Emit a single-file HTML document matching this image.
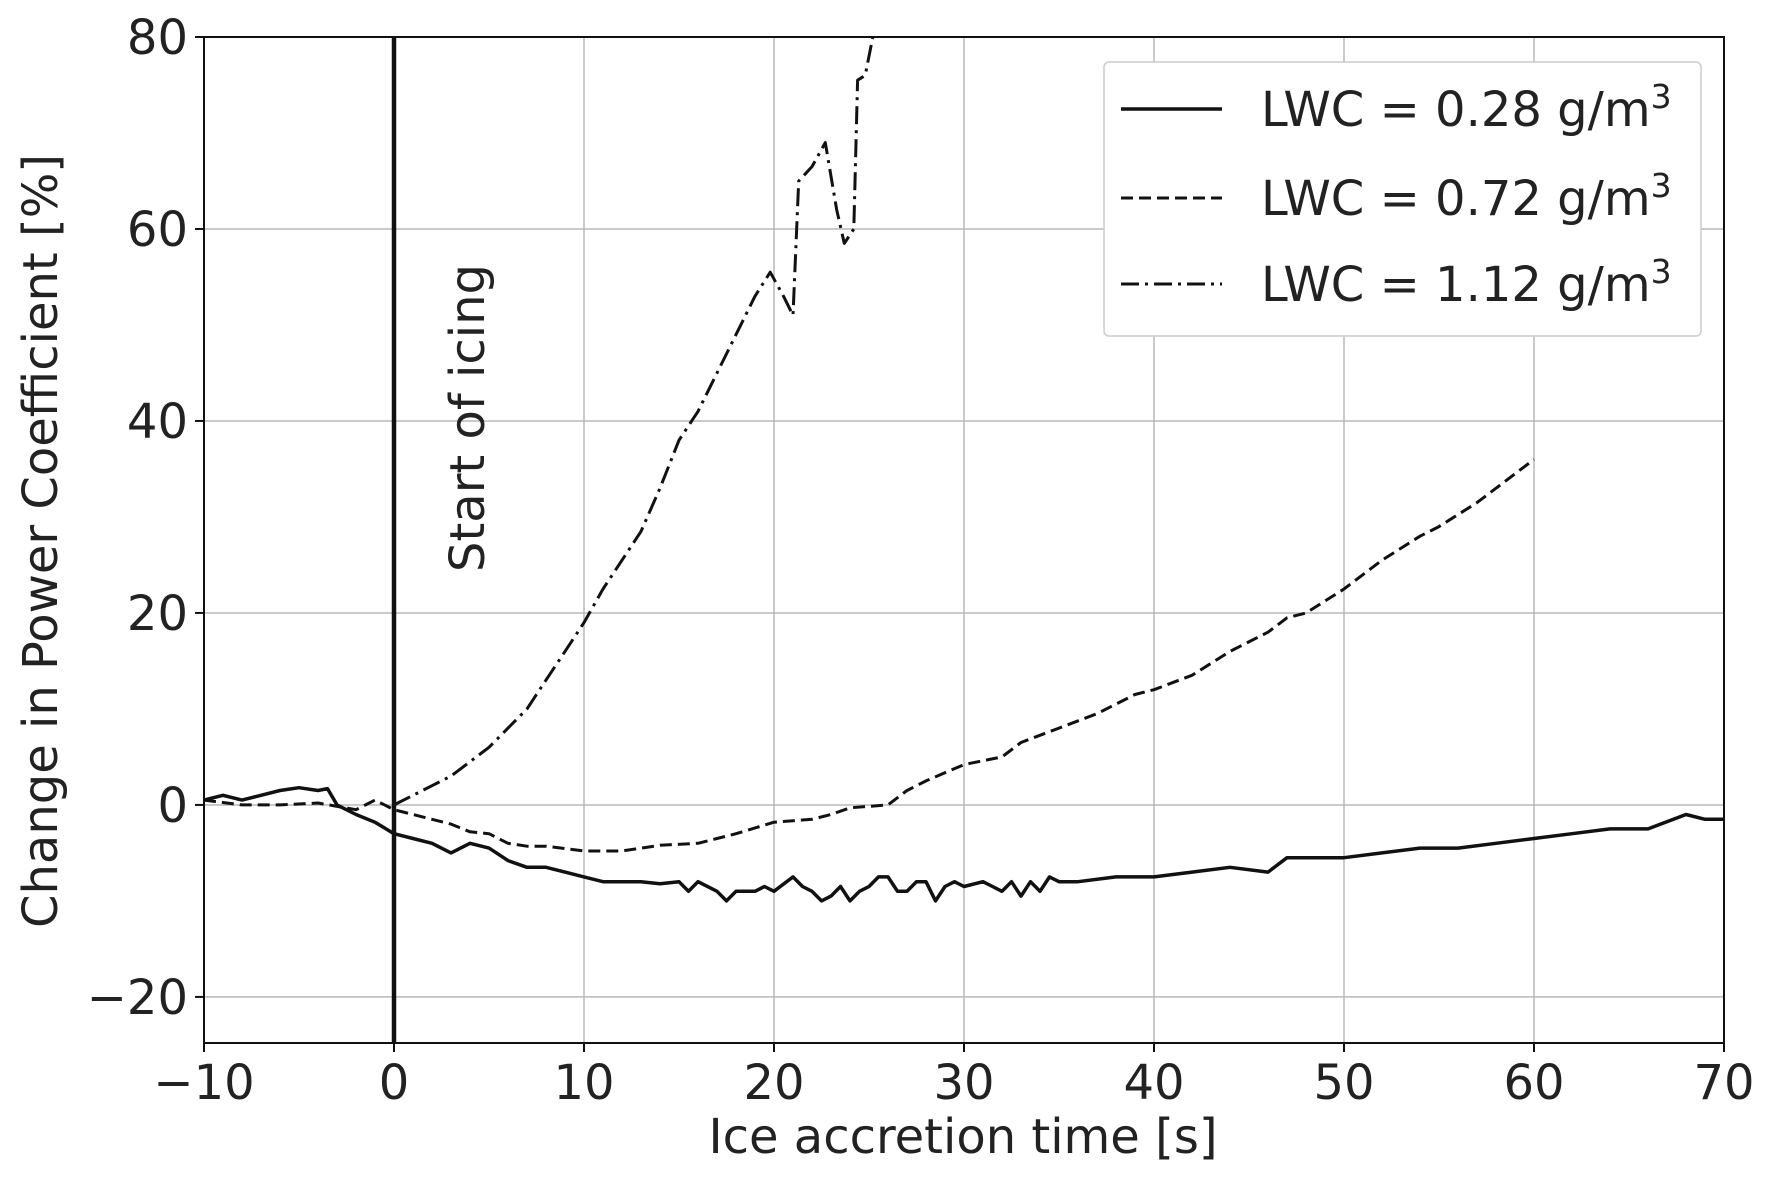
<!DOCTYPE html>
<html><head><meta charset="utf-8"><style>
html,body{margin:0;padding:0;background:#fff}
svg{display:block;font-family:"DejaVu Sans","Liberation Sans",sans-serif}
</style></head><body>
<svg id="chart" width="1766" height="1177">
<g id="grid"></g>
<g id="series"></g>
<g id="axes"></g>
<text x="963" y="1153" font-size="48" text-anchor="middle" fill="#222">Ice accretion time [s]</text>
<text transform="translate(57,541) rotate(-90)" font-size="48" text-anchor="middle" fill="#222">Change in Power Coefficient [%]</text>
<text transform="translate(484,418) rotate(-90)" font-size="48" text-anchor="middle" fill="#222">Start of icing</text>
<g>
<rect x="1104" y="62" width="597" height="274" rx="5" fill="#fff" stroke="#ccc" stroke-width="1.5"/>
<g><line x1="1121" y1="109" x2="1222" y2="109" stroke="#111" stroke-width="3.5"/><text x="1261" y="126" font-size="48" fill="#222">LWC = 0.28 g/m<tspan dy="-18" font-size="33">3</tspan></text></g>
<g><line x1="1121" y1="198" x2="1222" y2="198" stroke="#111" stroke-width="3" stroke-dasharray="12,6"/><text x="1261" y="215" font-size="48" fill="#222">LWC = 0.72 g/m<tspan dy="-18" font-size="33">3</tspan></text></g>
<g><line x1="1121" y1="284" x2="1222" y2="284" stroke="#111" stroke-width="3" stroke-dasharray="18,6,3,6"/><text x="1261" y="301" font-size="48" fill="#222">LWC = 1.12 g/m<tspan dy="-18" font-size="33">3</tspan></text></g>
</g>
</svg>
<script>
const xTicks=[-10,0,10,20,30,40,50,60,70];
const yTicks=[-20,0,20,40,60,80];
const tLow=[-10,-9,-8,-7,-6,-5,-4,-3.5,-3,-2,-1,0,1,2,3,4,5,6,7,8,9,10,11,12,13,14,15,15.5,16,17,17.5,18,19,19.5,20,21,21.5,22,22.5,23,23.5,24,24.5,25,25.5,26,26.5,27,27.5,28,28.5,29,29.5,30,31,31.5,32,32.5,33,33.5,34,34.5,35,36,38,40,42,44,46,47,49,50,52,54,56,58,60,62,64,66,68,69,70];
const vLow=[0.5,1,0.5,1,1.5,1.8,1.5,1.7,0,-1,-1.8,-3,-3.5,-4,-5,-4,-4.5,-5.8,-6.5,-6.5,-7,-7.5,-8,-8,-8,-8.2,-8,-9,-8,-9,-10,-9,-9,-8.5,-9,-7.5,-8.5,-9,-10,-9.5,-8.5,-10,-9,-8.5,-7.5,-7.5,-9,-9,-8,-8,-10,-8.5,-8,-8.5,-8,-8.5,-9,-8,-9.5,-8,-9,-7.5,-8,-8,-7.5,-7.5,-7,-6.5,-7,-5.5,-5.5,-5.5,-5,-4.5,-4.5,-4,-3.5,-3,-2.5,-2.5,-1,-1.5,-1.5];
const tMid=[-10,-8,-6,-4,-2,-1,0,1,2,3,4,5,6,7,8,10,12,14,16,17,18,20,22,23,24,26,27,28,30,32,33,35,37,39,40,42,44,46,47,48,50,52,54,55,57,59,60];
const vMid=[0.5,0,0,0.2,-0.5,0.5,-0.5,-1,-1.5,-2,-2.8,-3,-4,-4.3,-4.3,-4.8,-4.8,-4.2,-4,-3.5,-3,-1.8,-1.5,-1,-0.3,0,1.5,2.5,4.2,5,6.5,8,9.5,11.5,12,13.5,16,18,19.5,20,22.5,25.5,28,29,31.5,34.5,36];
const tHigh=[0,1,2,3,4,5,6,7,8,9,10,11,12,13,14,15,16,17,18,19,19.8,20.5,21,21.3,22,22.7,23.3,23.7,24.2,24.4,24.8,25.2,25.5];
const vHigh=[0,1,2,3,4.5,6,8,10,13,16,19,22.5,25.5,28.5,33,38,41,45,49,53,55.5,53,51,65,66.5,69,62,58.5,60,75.5,76,80,82];
const X0=204,X1=1724,YT=37,YB=1043,XMIN=-10,XMAX=70,YMIN=-24.8,YMAX=80;
const sx=v=>X0+(v-XMIN)/(XMAX-XMIN)*(X1-X0);
const sy=v=>YB-(v-YMIN)/(YMAX-YMIN)*(YB-YT);
const NS="http://www.w3.org/2000/svg";
function mk(tag,attrs,parent){const e=document.createElementNS(NS,tag);for(const k in attrs)e.setAttribute(k,attrs[k]);parent.appendChild(e);return e;}
const grid=document.getElementById('grid'),axes=document.getElementById('axes'),series=document.getElementById('series');
xTicks.forEach(t=>{
 const g=mk('line',{x1:sx(t),x2:sx(t),y1:YT,y2:YB,stroke:'#b8b8b8','stroke-width':1.5},grid);
 
 
 mk('line',{x1:sx(t),x2:sx(t),y1:YB,y2:YB+9,stroke:'#111','stroke-width':2},axes);
 const l=mk('text',{x:sx(t),y:YB+56,'font-size':48,'text-anchor':'middle',fill:'#222'},axes);
 l.textContent=t<0?'\u2212'+(-t):String(t);
 
 
});
yTicks.forEach(t=>{
 const g=mk('line',{x1:X0,x2:X1,y1:sy(t),y2:sy(t),stroke:'#b8b8b8','stroke-width':1.5},grid);
 
 
 mk('line',{x1:X0-9,x2:X0,y1:sy(t),y2:sy(t),stroke:'#111','stroke-width':2},axes);
 const l=mk('text',{x:X0-16,y:sy(t)+17,'font-size':48,'text-anchor':'end',fill:'#222'},axes);
 l.textContent=t<0?'\u2212'+(-t):String(t);
 
 
});
const frame=mk('rect',{x:X0,y:YT,width:X1-X0,height:YB-YT,fill:'none',stroke:'#111','stroke-width':2},axes);


const vline=mk('line',{x1:sx(0),x2:sx(0),y1:YT,y2:YB,stroke:'#111','stroke-width':4.5},axes);


mk('clipPath',{id:'clip'},series);
mk('rect',{x:X0,y:YT,width:X1-X0,height:YB-YT},series.lastChild);
function draw(ts,vs,dash,w,name){
 const d=ts.map((t,i)=>(i?'L':'M')+sx(t).toFixed(1)+','+sy(vs[i]).toFixed(1)).join('');
 const p=mk('path',{d:d,fill:'none',stroke:'#111','stroke-width':w,'stroke-dasharray':dash,'stroke-linejoin':'round','clip-path':'url(#clip)'},series);
 
 
}
draw(tLow,vLow,'none',3.5,'series-lwc-028');
draw(tMid,vMid,'12,6',3,'series-lwc-072');
draw(tHigh,vHigh,'18,6,3,6',3,'series-lwc-112');
</script>
</body></html>
